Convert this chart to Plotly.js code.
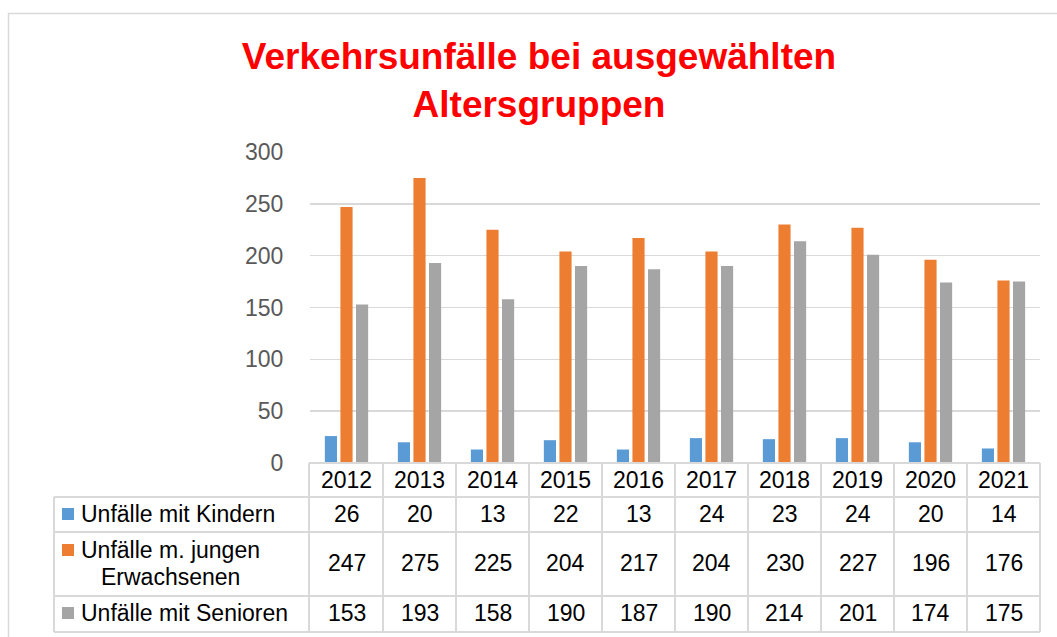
<!DOCTYPE html>
<html>
<head>
<meta charset="utf-8">
<script src="https://cdn.plot.ly/plotly-3.0.1.min.js"></script>
<style>html,body{margin:0;padding:0;background:#fff;}#chart{width:1057px;height:637px;}</style>
</head>
<body>
<div id="chart"></div>
<script>
var years = ['2012','2013','2014','2015','2016','2017','2018','2019','2020','2021'];
var kinder = [26,20,13,22,13,24,23,24,20,14];
var jung = [247,275,225,204,217,204,230,227,196,176];
var senioren = [153,193,158,190,187,190,214,201,174,175];
var seriesNames = ['Unfälle mit Kindern','Unfälle m. jungen Erwachsenen','Unfälle mit Senioren'];
var colors = ['#5B9BD5','#ED7D31','#A5A5A5'];
var yTicks = [0,50,100,150,200,250,300];

var W = 1057, H = 637, mL = 310, mR = 17, mT = 152, mB = 174;
var pw = W - mL - mR, ph = H - mT - mB;
function xp(px){ return (px - mL) / pw; }
function yp(py){ return (H - mB - py) / ph; }

var font = 'Liberation Sans, Arial, sans-serif';
var grid = '#D9D9D9';

var data = [kinder, jung, senioren].map(function(v, i){
  return {type:'bar', x: years, y: v, name: seriesNames[i], marker:{color: colors[i], line:{width:0}}, hoverinfo:'x+y+name'};
});

var shapes = [];
var annotations = [];
function hline(x0, x1, y){ shapes.push({type:'line', xref:'paper', yref:'paper', x0:xp(x0), x1:xp(x1), y0:yp(y), y1:yp(y), line:{color:grid, width:2}}); }
function vline(x, y0, y1){ shapes.push({type:'line', xref:'paper', yref:'paper', x0:xp(x), x1:xp(x), y0:yp(y0), y1:yp(y1), line:{color:grid, width:2}}); }

// outer chart border
shapes.push({type:'rect', xref:'paper', yref:'paper', x0:xp(8.5), x1:xp(1062), y0:yp(13.5), y1:yp(642), line:{color:grid, width:1.5}});

// table grid
var rowY = [463, 497, 532, 596, 632];
hline(309, 1040, 463);
for (var r = 1; r < rowY.length; r++) hline(54, 1040, rowY[r]);
vline(54, 497, 632);
vline(309, 463, 632);
for (var c = 1; c <= years.length; c++) {
  shapes.push({type:'line', xref:'paper', yref:'paper', x0:c/years.length, x1:c/years.length, y0:yp(463), y1:yp(632), line:{color:grid, width:2}});
}

// header years and values (category index on the x axis)
var rowCenters = [514, 563, 613];
var series = [kinder, jung, senioren];
years.forEach(function(yr, i){
  annotations.push({xref:'x', yref:'paper', x: i, y: yp(480), text: yr, showarrow:false, xanchor:'center', yanchor:'middle', font:{family:font, size:23, color:'#000'}});
  series.forEach(function(s, k){
    annotations.push({xref:'x', yref:'paper', x: i, y: yp(rowCenters[k]), text: String(s[i]), showarrow:false, xanchor:'center', yanchor:'middle', font:{family:font, size:23, color:'#000'}});
  });
});

// legend column
var keyY = [514, 550, 613];
keyY.forEach(function(cy, k){
  shapes.push({type:'rect', xref:'paper', yref:'paper', x0:xp(62), x1:xp(74), y0:yp(cy-6), y1:yp(cy+6), line:{width:0}, fillcolor: colors[k]});
});
annotations.push({xref:'paper', yref:'paper', x:xp(79), y:yp(514), text:'Unfälle mit Kindern', showarrow:false, xanchor:'left', yanchor:'middle', font:{family:font, size:23, color:'#000'}});
annotations.push({xref:'paper', yref:'paper', x:xp(79), y:yp(550), text:'Unfälle m. jungen', showarrow:false, xanchor:'left', yanchor:'middle', font:{family:font, size:23, color:'#000'}});
annotations.push({xref:'paper', yref:'paper', x:xp(99), y:yp(577), text:'Erwachsenen', showarrow:false, xanchor:'left', yanchor:'middle', font:{family:font, size:23, color:'#000'}});
annotations.push({xref:'paper', yref:'paper', x:xp(79), y:yp(613), text:'Unfälle mit Senioren', showarrow:false, xanchor:'left', yanchor:'middle', font:{family:font, size:23, color:'#000'}});

var layout = {
  width: W, height: H,
  margin: {l: mL, r: mR, t: mT, b: mB, pad: 0},
  paper_bgcolor: '#fff', plot_bgcolor: '#fff',
  title: {text: 'Verkehrsunfälle bei ausgewählten<br>Altersgruppen', font:{family:font, size:37, color:'#FF0000', weight:'bold'}, xref:'container', x: 539/W, xanchor:'center', yref:'container', y: 1 - 69/H, yanchor:'top'},
  showlegend: false,
  barmode: 'group', bargap: 0.36, bargroupgap: 0.22,
  xaxis: {type:'category', range:[-0.5, 9.5], showticklabels:false, ticks:'', showgrid:false, zeroline:false, showline:false, fixedrange:true},
  yaxis: {range:[0, 300], tickvals: yTicks, ticktext: yTicks.map(String), showgrid:true, gridcolor:grid, gridwidth:1.5, zeroline:false, showline:false,
          ticks:'outside', ticklen:21, tickcolor:'rgba(0,0,0,0)', tickfont:{family:font, size:23, color:'#595959'}, fixedrange:true},
  shapes: shapes,
  annotations: annotations
};

Plotly.newPlot('chart', data, layout, {displayModeBar:false, staticPlot:true});
</script>
</body>
</html>
